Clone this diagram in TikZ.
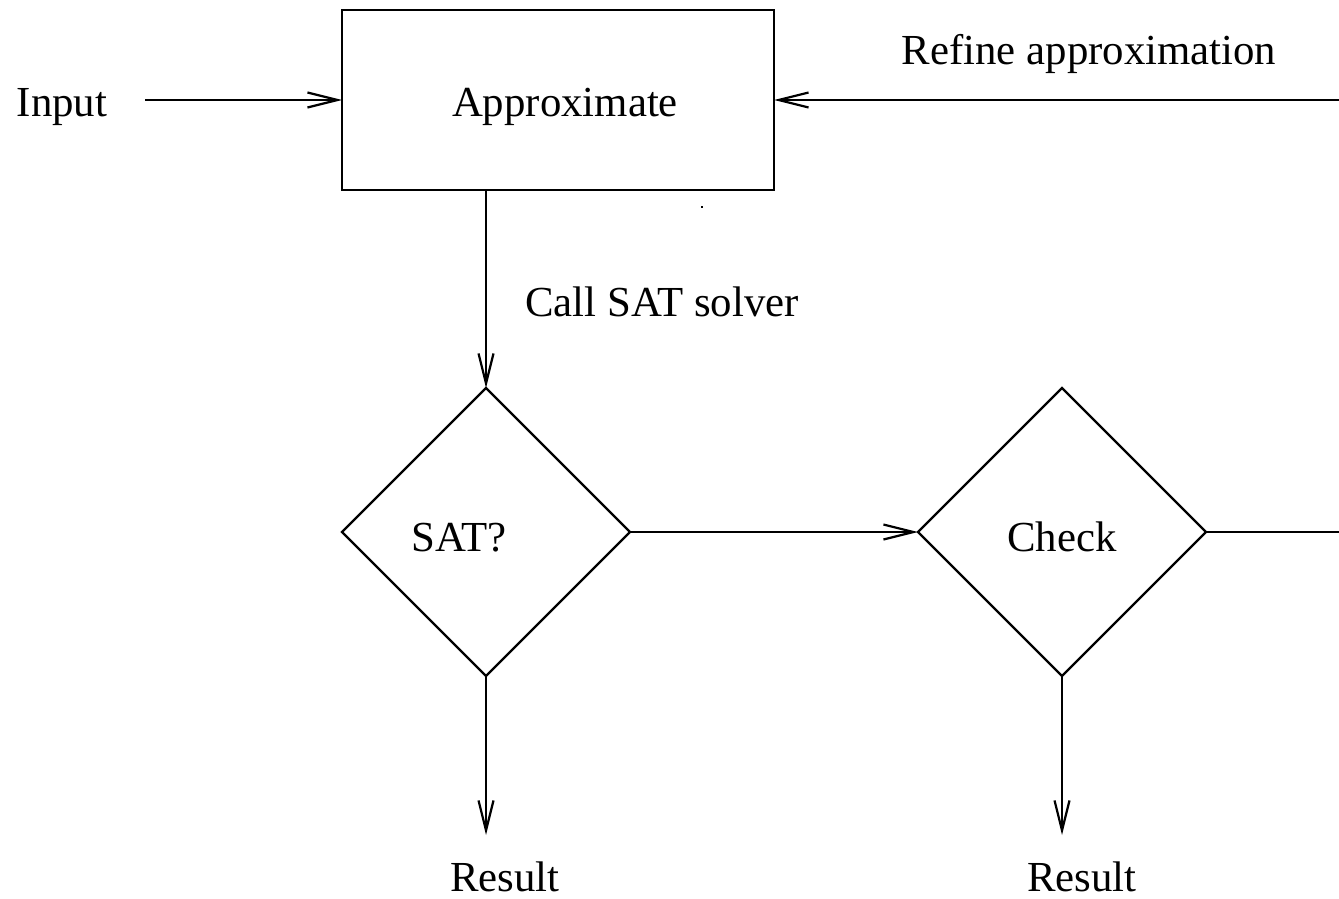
\documentclass[tikz,border=0pt]{standalone}
\usepackage{fontspec}
\setmainfont{Liberation Serif}
\usetikzlibrary{shapes.geometric,arrows.meta}
\begin{document}
\begin{tikzpicture}[x=0.5pt,y=-0.5pt,
  conn/.style={line width=1.1pt,-{Straight Barb[length=15pt,width=7.5pt,line join=miter]}},
  plain/.style={line width=1.1pt},
  boxshape/.style={draw,rectangle,line width=1.1pt,minimum width=216pt,minimum height=90pt,inner sep=0pt,outer sep=0pt},
  decision/.style={draw,diamond,aspect=1,line width=1.1pt,minimum width=144pt,minimum height=144pt,inner sep=0pt,outer sep=0pt},
  txt/.style={font=\fontsize{21.4pt}{24pt}\selectfont,anchor=base,inner sep=0pt}]
\useasboundingbox (0,0) rectangle (1339,899);
% shapes
\node[boxshape] (approx) at (558,100) {};
\node[decision] (sat) at (486,532) {};
\node[decision] (check) at (1062,532) {};
% texts
\node[txt] (approxtext) at (565,117) {Approximate};
\node[txt] (input) at (62,117) {Input};
\node[txt] (refine) at (1089,65) {Refine approximation};
\node[txt] (call) at (662,316) {Call SAT solver};
\node[txt] (sattext) at (459,551) {SAT?};
\node[txt] (checktext) at (1062,551) {Check};
\node[txt] (res1) at (505,891) {Result};
\node[txt] (res2) at (1082,891) {Result};
% free ends
\coordinate (inputend) at (145,100);
\coordinate (refinestart) at (1339,100);
\coordinate (checkout) at (1339,532);
\coordinate (res1tip) at (486,835);
\coordinate (res2tip) at (1062,835);
% connectors
\draw[conn] (inputend) -- (approx.west);
\draw[conn] (refinestart) -- (approx.east);
\draw[conn] (sat.north |- approx.south) -- (sat.north);
\draw[conn] (sat.east) -- (check.west);
\draw[plain] (check.east) -- (checkout);
\draw[conn] (sat.south) -- (res1tip);
\draw[conn] (check.south) -- (res2tip);
% stray dot
\fill (701,206) rectangle (703,208);
\end{tikzpicture}
\end{document}
